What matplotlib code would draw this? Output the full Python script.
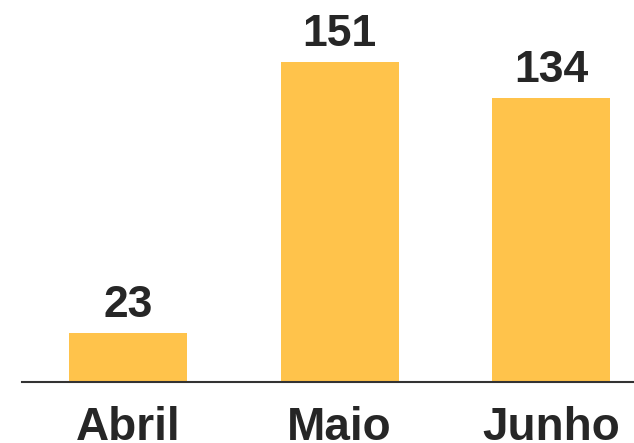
import matplotlib.pyplot as plt

plt.rcParams['font.family'] = ['Liberation Sans', 'DejaVu Sans']

meses = ["Abril", "Maio", "Junho"]
valores = [23, 151, 134]

fig = plt.figure(figsize=(6.34, 4.43), dpi=100)
ax = fig.add_axes([22 / 634, 61 / 443, 612 / 634, 360 / 443])

x = range(len(meses))
bars = ax.bar(x, valores, width=0.557, color="#FFC34B")

for b, v in zip(bars, valores):
    ax.annotate(str(v), (b.get_x() + b.get_width() / 2, v),
                xytext=(0, 5), textcoords="offset points",
                ha="center", va="bottom", fontsize=32,
                fontweight="bold", color="#262626")

ax.set_xticks(list(x))
ax.set_xticklabels(meses, fontsize=33, fontweight="bold", color="#262626")
ax.tick_params(axis="x", length=0, pad=17)
ax.set_yticks([])
ax.set_xlim(-0.5, 2.39)
ax.set_ylim(0, 360 / 2.12)

for s in ["top", "right", "left"]:
    ax.spines[s].set_visible(False)
ax.spines["bottom"].set_color("#333333")
ax.spines["bottom"].set_linewidth(1.5)

plt.savefig("out.png", dpi=100)
